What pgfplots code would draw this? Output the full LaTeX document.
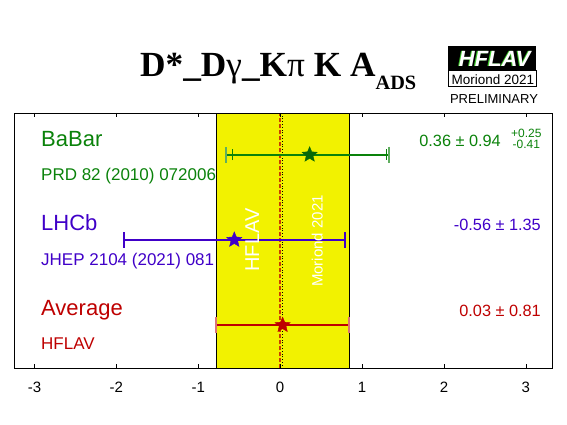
\documentclass[border=0pt]{standalone}
\usepackage{fontspec}
\setmainfont{Liberation Sans}
\newfontfamily\serif{Liberation Serif}
\usepackage{pgfplots}
\pgfplotsset{compat=1.18}

\definecolor{cgreen}{RGB}{10,130,10}
\definecolor{cblue}{RGB}{64,0,200}
\definecolor{cred}{RGB}{190,0,0}
\definecolor{cyel}{RGB}{242,242,0}
\definecolor{clogo}{RGB}{60,200,40}

\newcommand\fs[1]{\fontsize{#1}{#1}\selectfont}

\pgfdeclareplotmark{fstar}{%
  \pgfpathmoveto{\pgfpointpolar{90}{\pgfplotmarksize}}%
  \pgfpathlineto{\pgfpointpolar{126}{0.45\pgfplotmarksize}}%
  \pgfpathlineto{\pgfpointpolar{162}{\pgfplotmarksize}}%
  \pgfpathlineto{\pgfpointpolar{198}{0.45\pgfplotmarksize}}%
  \pgfpathlineto{\pgfpointpolar{234}{\pgfplotmarksize}}%
  \pgfpathlineto{\pgfpointpolar{270}{0.45\pgfplotmarksize}}%
  \pgfpathlineto{\pgfpointpolar{306}{\pgfplotmarksize}}%
  \pgfpathlineto{\pgfpointpolar{342}{0.45\pgfplotmarksize}}%
  \pgfpathlineto{\pgfpointpolar{18}{\pgfplotmarksize}}%
  \pgfpathlineto{\pgfpointpolar{54}{0.45\pgfplotmarksize}}%
  \pgfpathclose
  \pgfusepathqfillstroke}

\begin{document}
\begin{tikzpicture}
\path[use as bounding box] (0pt,0pt) rectangle (567pt,425pt);
\begin{axis}[
  at={(14pt,56.5pt)}, anchor=south west, scale only axis,
  width=538.7pt, height=255.5pt,
  xmin=-3.25, xmax=3.328, ymin=0.49, ymax=3.49,
  axis on top, clip=false,
  xtick={-3,-2,-1,0,1,2,3},
  xticklabels={-3,-2,-1,0,1,2,3},
  xtick pos=both, ytick=\empty,
  tick align=inside, major tick length=4pt,
  xticklabel style={anchor=base, yshift=-24pt, font=\fs{15}},
  axis line style={line width=0.8pt},
  every tick/.style={black, line width=0.6pt},
]
% average band
\addplot[fill=cyel, draw=none] coordinates {(-0.78,0.49) (0.84,0.49) (0.84,3.49) (-0.78,3.49)} -- cycle;
\addplot[black, line width=0.9pt] coordinates {(-0.78,0.49) (-0.78,3.49)};
\addplot[black, line width=0.9pt] coordinates {(0.84,0.49) (0.84,3.49)};
\addplot[cred, opacity=0.75, line width=1.6pt, dash pattern=on 4pt off 2pt] coordinates {(0,0.49) (0,3.49)};
\addplot[black, line width=0.8pt, dotted] coordinates {(0.03,0.49) (0.03,3.49)};

% BaBar: total and stat
\addplot[cgreen, line width=1.6pt, mark=none, error bars/.cd, x dir=both, x explicit, error mark=|,
  error bar style={line width=1.6pt, cgreen},
  error mark options={mark size=8pt, line width=1.8pt, cgreen!65}]
  coordinates {(0.36,3) += (0.9727,0) -= (1.0255,0)};
\addplot[cgreen, line width=1.6pt, mark=none, error bars/.cd, x dir=both, x explicit, error mark=|,
  error bar style={line width=1.6pt, cgreen},
  error mark options={mark size=5.5pt, line width=1.2pt, cgreen}]
  coordinates {(0.36,3) +- (0.94,0)};
\addplot[only marks, mark=fstar, mark size=8pt, draw=cgreen!80!black, fill=cgreen!80!black] coordinates {(0.36,3)};

% LHCb
\addplot[cblue, line width=1.6pt, mark=none, error bars/.cd, x dir=both, x explicit, error mark=|,
  error bar style={line width=1.6pt, cblue},
  error mark options={mark size=7.8pt, line width=1.6pt, cblue}]
  coordinates {(-0.56,2) +- (1.35,0)};
\addplot[only marks, mark=fstar, mark size=8pt, draw=cblue, fill=cblue] coordinates {(-0.56,2)};

% Average
\addplot[cred, line width=2pt, mark=none, error bars/.cd, x dir=both, x explicit, error mark=|,
  error bar style={line width=2pt, cred},
  error mark options={mark size=8pt, line width=1.8pt, cred!55}]
  coordinates {(0.03,1) +- (0.81,0)};
\addplot[only marks, mark=fstar, mark size=8pt, draw=cred, fill=cred] coordinates {(0.03,1)};
\end{axis}

% left labels
\node[anchor=base west, text=cgreen, font=\fs{22}, inner sep=0] at (41pt,278.3pt) {BaBar};
\node[anchor=base west, text=cgreen, font=\fs{17}, inner sep=0] at (41pt,244pt) {PRD 82 (2010) 072006};
\node[anchor=base west, text=cblue, font=\fs{22}, inner sep=0] at (41pt,194pt) {LHCb};
\node[anchor=base west, text=cblue, font=\fs{17}, inner sep=0] at (41pt,159.3pt) {JHEP 2104 (2021) 081};
\node[anchor=base west, text=cred, font=\fs{22}, inner sep=0] at (41pt,109pt) {Average};
\node[anchor=base west, text=cred, font=\fs{17}, inner sep=0] at (41pt,75pt) {HFLAV};

% right values
\node[anchor=base east, text=cgreen, font=\fs{16.3}, inner sep=0] at (501pt,278.3pt) {0.36 ± 0.94};
\node[anchor=base west, text=cgreen, font=\fs{12}, inner sep=0] at (511pt,287pt) {+0.25};
\node[anchor=base west, text=cgreen, font=\fs{12}, inner sep=0] at (512.5pt,276.5pt) {-0.41};
\node[anchor=base east, text=cblue, font=\fs{16.3}, inner sep=0] at (541pt,194.3pt) {-0.56 ± 1.35};
\node[anchor=base east, text=cred, font=\fs{16.3}, inner sep=0] at (541pt,108.3pt) {0.03 ± 0.81};

% rotated band texts
\node[rotate=90, anchor=base, text=white, font=\fs{20}, inner sep=0] at (259pt,185pt) {HFLAV};
\node[rotate=90, anchor=base, text=white, font=\fs{15}, inner sep=0] at (322.7pt,184pt) {Moriond 2021};

% title
\node[anchor=base west, inner sep=0] at (140pt,348.3pt)
  {\serif\bfseries\fs{35.3}D*\_D{\mdseries γ}\_K{\mdseries π} K A\raisebox{-13.3pt}{\fs{20.3}ADS}};

% logo
\fill[black] (448pt,355pt) rectangle (536pt,379pt);
\draw[black, line width=0.8pt, fill=white] (448pt,338.3pt) rectangle (536pt,355pt);
\node[anchor=base, text=clogo, font=\fs{22}\bfseries\itshape, inner sep=0] at (493.6pt,358.3pt) {HFLAV};
\node[anchor=base, text=white, font=\fs{22}\bfseries\itshape, inner sep=0] at (494.8pt,358pt) {HFLAV};
\node[anchor=base, text=black, font=\fs{13.5}, inner sep=0] at (492.9pt,340.7pt) {Moriond 2021};
\node[anchor=base, text=black, font=\fs{13}, inner sep=0] at (494pt,321.7pt) {PRELIMINARY};
\end{tikzpicture}
\end{document}
